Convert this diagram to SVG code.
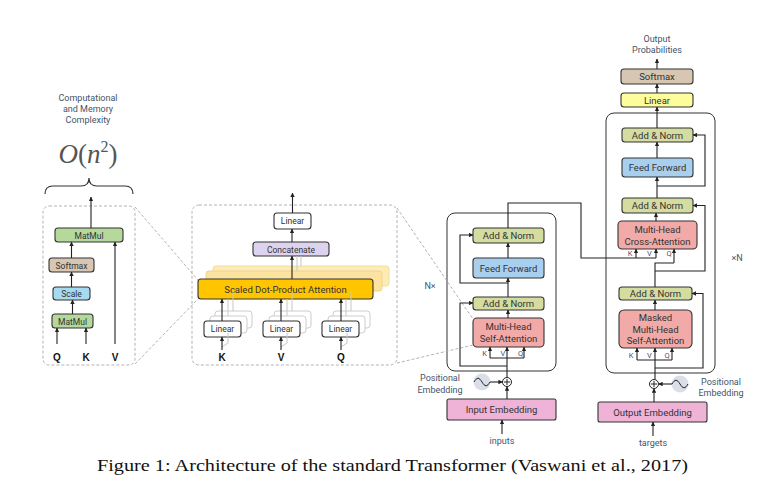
<svg xmlns="http://www.w3.org/2000/svg" width="780" height="493" viewBox="0 0 780 493">
<defs>
<marker id="ah" viewBox="0 0 6 6" markerWidth="4.5" markerHeight="4.5" refX="5.5" refY="3" orient="auto" markerUnits="userSpaceOnUse">
<path d="M0,0 L6,3 L0,6 z" fill="#222"/>
</marker>
</defs>
<style>
.b{stroke:#333;stroke-width:1.1}
.t{font-family:Roboto,"Liberation Sans",sans-serif;font-size:9.5px;fill:#333;text-anchor:middle}
.ts{font-family:Roboto,"Liberation Sans",sans-serif;font-size:8.5px;fill:#333;text-anchor:middle}
.lab{font-family:Roboto,"Liberation Sans",sans-serif;font-size:9px;fill:#44546a;text-anchor:middle}
.kvq{font-family:Roboto,"Liberation Sans",sans-serif;font-size:7.5px;fill:#44546a;text-anchor:middle}
.big{font-family:"Liberation Sans",Arial,sans-serif;font-size:10px;font-weight:bold;fill:#111;text-anchor:middle}
.ln{fill:none;stroke:#222;stroke-width:1.1}
.la{fill:none;stroke:#222;stroke-width:1.1;marker-end:url(#ah)}
.lg{fill:none;stroke:#c8c8c8;stroke-width:1}
.dash{fill:none;stroke:#aaa;stroke-width:0.9;stroke-dasharray:3,2}
.an{fill:#d5dca0}
.ff{fill:#a9cfee}
.mha{fill:#f2aaa8}
.emb{fill:#eeb3d6}
.sm{fill:#d6c6b2}
.mm{fill:#b5d89b}
</style>
<rect width="780" height="493" fill="#fff"/>

<!-- left panel -->
<g id="panel-left">
<rect x="43" y="206" width="92" height="159" rx="6" fill="#fcfaf4" class="dash"/>
<text class="lab" x="88" y="101">Computational</text>
<text class="lab" x="88" y="112">and Memory</text>
<text class="lab" x="88" y="123">Complexity</text>
<text x="88" y="163" font-family="Liberation Serif,serif" font-size="27" fill="#555" text-anchor="middle"><tspan font-style="italic">O</tspan>(<tspan font-style="italic">n</tspan><tspan font-size="16" dy="-11">2</tspan><tspan dy="11">)</tspan></text>
<path d="M45,194 Q45,186 53,186 L81,186 Q89,186 89,178 Q89,186 97,186 L125,186 Q133,186 133,194" fill="none" stroke="#333" stroke-width="1.2"/>
</g>
<g id="matmul-top"><rect x="55" y="228" width="68" height="14" rx="3" class="b mm"/><text class="ts" x="89" y="238.5">MatMul</text></g>
<g id="softmax-l"><rect x="49" y="258" width="45" height="14" rx="3" class="b sm"/><text class="ts" x="71.5" y="268.5">Softmax</text></g>
<g id="scale"><rect x="53" y="287" width="37" height="13" rx="3" class="b" fill="#a6daf0"/><text class="ts" x="71.5" y="296.5">Scale</text></g>
<g id="matmul-bot"><rect x="52" y="314" width="41" height="14" rx="3" class="b mm"/><text class="ts" x="72.5" y="324.5">MatMul</text></g>
<g id="qkv-left">
<text class="big" x="57" y="361">Q</text><text class="big" x="86" y="361">K</text><text class="big" x="115" y="361">V</text>
</g>

<!-- middle panel -->
<g id="panel-mid">
<rect x="192" y="205" width="205" height="160" rx="7" fill="#fcfaf4" class="dash"/>
</g>
<g id="linear-mid"><rect x="274" y="213" width="37" height="16" rx="3" class="b" fill="#fff"/><text class="ts" x="292.5" y="224">Linear</text></g>
<g id="concat"><rect x="253" y="242" width="76" height="14" rx="3" class="b" fill="#ddd3ee"/><text class="ts" x="291" y="252.5">Concatenate</text></g>
<g id="sdpa">
<rect x="213" y="266" width="176" height="20" rx="3" fill="#fdecb8" stroke="#f2dc9c"/>
<rect x="206" y="271" width="176" height="20" rx="3" fill="#fde3a0" stroke="#efd28a"/>
<rect x="198" y="279" width="175" height="20" rx="3" class="b" fill="#ffc600"/>
<text class="t" x="285.5" y="292.5" font-size="9">Scaled Dot-Product Attention</text>
</g>
<g id="linear-k">
<rect x="215" y="311" width="37" height="17" rx="3" fill="#fff" stroke="#ccc"/>
<rect x="210" y="316" width="37" height="17" rx="3" fill="#fff" stroke="#ccc"/>
<rect x="204" y="321" width="37" height="16" rx="3" class="b" fill="#fff"/><text class="ts" x="222.5" y="332">Linear</text>
</g>
<g id="linear-v">
<rect x="274" y="311" width="37" height="17" rx="3" fill="#fff" stroke="#ccc"/>
<rect x="269" y="316" width="37" height="17" rx="3" fill="#fff" stroke="#ccc"/>
<rect x="263" y="321" width="37" height="16" rx="3" class="b" fill="#fff"/><text class="ts" x="281.5" y="332">Linear</text>
</g>
<g id="linear-q">
<rect x="333" y="311" width="37" height="17" rx="3" fill="#fff" stroke="#ccc"/>
<rect x="328" y="316" width="37" height="17" rx="3" fill="#fff" stroke="#ccc"/>
<rect x="322" y="321" width="37" height="16" rx="3" class="b" fill="#fff"/><text class="ts" x="340.5" y="332">Linear</text>
</g>
<g id="kvq-mid">
<text class="big" x="222" y="361">K</text><text class="big" x="281" y="361">V</text><text class="big" x="341" y="361">Q</text>
</g>

<!-- encoder -->
<g id="encoder-box"><rect x="447" y="213" width="109" height="158" rx="8" fill="#fff" stroke="#333" stroke-width="1"/></g>
<g id="enc-addnorm2"><rect x="473" y="228" width="71" height="15" rx="3" class="b an"/><text class="t" x="508.5" y="239">Add &amp; Norm</text></g>
<g id="enc-ff"><rect x="473" y="258" width="71" height="20" rx="3" class="b ff"/><text class="t" x="508.5" y="271.5">Feed Forward</text></g>
<g id="enc-addnorm1"><rect x="473" y="297" width="71" height="13" rx="3" class="b an"/><text class="t" x="508.5" y="307">Add &amp; Norm</text></g>
<g id="enc-mha"><rect x="473" y="318" width="71" height="29" rx="4" class="b mha"/><text class="t" x="508.5" y="330">Multi-Head</text><text class="t" x="508.5" y="342">Self-Attention</text></g>
<g id="enc-kvq"><text class="kvq" x="484.5" y="356">K</text><text class="kvq" x="503" y="356">V</text><text class="kvq" x="520.5" y="356">Q</text></g>
<g id="enc-pos">
<circle cx="482" cy="382" r="8.5" fill="#d9dee8"/>
<path d="M474,382 C477,377 479,377 482,382 S487,387 490,382" fill="none" stroke="#222" stroke-width="1"/>
<circle cx="507" cy="382" r="4.5" fill="#fff" stroke="#222" stroke-width="1"/>
<path d="M504,382 H510 M507,379 V385" stroke="#222" stroke-width="1"/>
<text class="lab" x="440" y="381">Positional</text><text class="lab" x="440" y="393">Embedding</text>
</g>
<g id="input-emb"><rect x="447" y="399" width="109" height="21" rx="2" class="b emb"/><text class="t" x="501.5" y="413">Input Embedding</text></g>
<g id="inputs-label"><text class="lab" x="502" y="444">inputs</text></g>
<g id="nx-label"><text class="lab" x="430" y="289">N×</text></g>

<!-- decoder -->
<g id="out-prob"><text class="lab" x="657" y="42">Output</text><text class="lab" x="657" y="53">Probabilities</text></g>
<g id="dec-softmax"><rect x="621" y="69" width="72" height="15" rx="3" class="b sm"/><text class="t" x="657" y="80">Softmax</text></g>
<g id="dec-linear"><rect x="621" y="93" width="72" height="14" rx="3" class="b" fill="#fdfd9c"/><text class="t" x="657" y="103.5">Linear</text></g>
<g id="decoder-box"><rect x="606" y="113" width="109" height="260" rx="8" fill="#fff" stroke="#333" stroke-width="1"/></g>
<g id="dec-addnorm3"><rect x="622" y="128" width="71" height="14" rx="3" class="b an"/><text class="t" x="657.5" y="138.5">Add &amp; Norm</text></g>
<g id="dec-ff"><rect x="622" y="158" width="71" height="19" rx="3" class="b ff"/><text class="t" x="657.5" y="171">Feed Forward</text></g>
<g id="dec-addnorm2"><rect x="622" y="198" width="71" height="15" rx="3" class="b an"/><text class="t" x="657.5" y="209">Add &amp; Norm</text></g>
<g id="dec-cross"><rect x="618" y="221" width="79" height="28" rx="4" class="b mha"/><text class="t" x="657.5" y="233">Multi-Head</text><text class="t" x="657.5" y="245">Cross-Attention</text></g>
<g id="dec-cross-kvq"><text class="kvq" x="630" y="256">K</text><text class="kvq" x="649.5" y="256">V</text><text class="kvq" x="669" y="256">Q</text></g>
<g id="dec-addnorm1"><rect x="619" y="287" width="73" height="13" rx="3" class="b an"/><text class="t" x="655.5" y="297">Add &amp; Norm</text></g>
<g id="dec-masked"><rect x="619" y="310" width="73" height="38" rx="5" class="b mha"/><text class="t" x="655.5" y="321">Masked</text><text class="t" x="655.5" y="332.5">Multi-Head</text><text class="t" x="655.5" y="344">Self-Attention</text></g>
<g id="dec-kvq"><text class="kvq" x="631" y="358">K</text><text class="kvq" x="649.5" y="358">V</text><text class="kvq" x="667" y="358">Q</text></g>
<g id="dec-pos">
<circle cx="680" cy="384" r="8.5" fill="#d9dee8"/>
<path d="M672,384 C675,379 677,379 680,384 S685,389 688,384" fill="none" stroke="#222" stroke-width="1"/>
<circle cx="654" cy="384" r="4.5" fill="#fff" stroke="#222" stroke-width="1"/>
<path d="M651,384 H657 M654,381 V387" stroke="#222" stroke-width="1"/>
<text class="lab" x="721" y="385">Positional</text><text class="lab" x="721" y="396">Embedding</text>
</g>
<g id="output-emb"><rect x="598" y="402" width="109" height="20" rx="2" class="b emb"/><text class="t" x="652.5" y="415.5">Output Embedding</text></g>
<g id="targets-label"><text class="lab" x="653" y="446">targets</text></g>
<g id="xn-label"><text class="lab" x="737" y="261">×N</text></g>

<!-- caption -->
<g id="caption"><text x="97" y="471" font-family="Liberation Serif,serif" font-size="17.5" fill="#111" textLength="591" lengthAdjust="spacingAndGlyphs">Figure 1: Architecture of the standard Transformer (Vaswani et al., 2017)</text></g>

<g id="connectors">
<path class="dash" d="M135,207 L198,280 M135,364 L198,299 M397,208 L473,319 M397,363 L473,345"/>
<path class="la" d="M91,228 V197"/>
<path class="la" d="M71.5,258 V242"/>
<path class="la" d="M71.5,287 V272"/>
<path class="la" d="M72.5,314 V300"/>
<path class="la" d="M57,344 V328"/>
<path class="la" d="M86,344 V328"/>
<path class="la" d="M115,344 V242"/>
<path class="la" d="M292.5,213 V193"/>
<path class="la" d="M292,242 V229"/>
<path class="lg" d="M297,271 V256 M301,266 V256"/>
<path class="la" d="M292,279 V256"/>
<path class="lg" d="M228,316 V299 M233,311 V291 M287,316 V299 M292,311 V291 M346,316 V299 M351,311 V291"/>
<path class="la" d="M222,321 V299"/>
<path class="la" d="M281,321 V299"/>
<path class="la" d="M341,321 V299"/>
<path class="lg" d="M222,347 L228,343 V333"/>
<path class="lg" d="M281,347 L287,343 V333"/>
<path class="lg" d="M341,347 L347,343 V333"/>
<path class="la" d="M222,350 V337"/>
<path class="la" d="M281,350 V337"/>
<path class="la" d="M341,350 V337"/>
<path class="la" d="M502,434 V420"/>
<path class="la" d="M507,399 V386.5"/>
<path class="la" d="M490,382 H502.5"/>
<path class="la" d="M507,377.5 V347"/>
<path class="ln" d="M490,358 H524"/>
<path class="la" d="M490,358 V347"/>
<path class="la" d="M524,358 V347"/>
<path class="la" d="M507,366 H460 V303 H473"/>
<path class="la" d="M508,318 V310"/>
<path class="la" d="M508,297 V278"/>
<path class="la" d="M508,283 H460 V235 H473"/>
<path class="la" d="M508,258 V243"/>
<path class="ln" d="M508,228 V203 H581 V258 H656"/>
<path class="la" d="M636,258 V249"/>
<path class="la" d="M656,258 V249"/>
<path class="la" d="M653,436 V422"/>
<path class="la" d="M654,402 V388.5"/>
<path class="la" d="M672,384 H658.5"/>
<path class="la" d="M655,379.5 V348"/>
<path class="ln" d="M637,360 H672"/>
<path class="la" d="M637,360 V348"/>
<path class="la" d="M672,360 V348"/>
<path class="la" d="M655,368 H703 V293.5 H692"/>
<path class="la" d="M655,310 V300"/>
<path class="ln" d="M655,287 V263 H674"/>
<path class="la" d="M674,263 V249"/>
<path class="la" d="M655,271 H705 V205.5 H693"/>
<path class="la" d="M656,221 V213"/>
<path class="la" d="M657,198 V177"/>
<path class="la" d="M657,186 H705 V135 H693"/>
<path class="la" d="M657,158 V142"/>
<path class="la" d="M657,128 V107"/>
<path class="la" d="M657,93 V84"/>
<path class="la" d="M657,69 V59"/>
</g>
</svg>
